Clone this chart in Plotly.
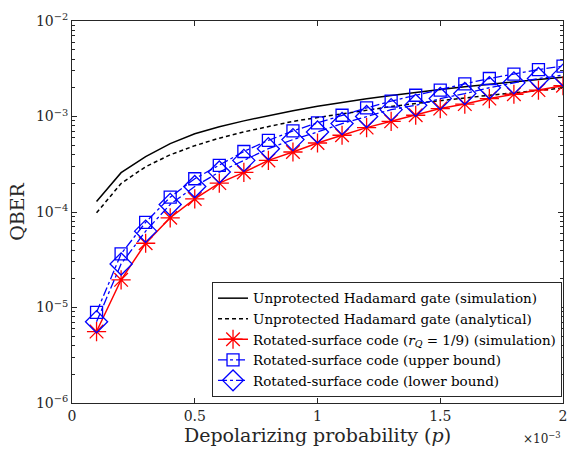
import plotly.graph_objects as go

p = [0.1e-3, 0.2e-3, 0.3e-3, 0.4e-3, 0.5e-3, 0.6e-3, 0.7e-3, 0.8e-3, 0.9e-3, 1.0e-3,
     1.1e-3, 1.2e-3, 1.3e-3, 1.4e-3, 1.5e-3, 1.6e-3, 1.7e-3, 1.8e-3, 1.9e-3, 2.0e-3]

unprot_sim = [1.29e-4, 2.58e-4, 3.8e-4, 5.2e-4, 6.6e-4, 7.8e-4, 9.0e-4, 1.02e-3, 1.15e-3, 1.28e-3,
              1.41e-3, 1.53e-3, 1.66e-3, 1.8e-3, 1.92e-3, 2.05e-3, 2.18e-3, 2.31e-3, 2.44e-3, 2.57e-3]
unprot_ana = [0.98e-4, 1.99e-4, 2.98e-4, 3.97e-4, 4.95e-4, 5.93e-4, 6.9e-4, 7.9e-4, 8.9e-4, 9.75e-4,
              1.07e-3, 1.17e-3, 1.27e-3, 1.37e-3, 1.47e-3, 1.57e-3, 1.67e-3, 1.77e-3, 1.88e-3, 1.99e-3]
rsc_sim = [5.6e-6, 1.95e-5, 4.71e-5, 8.7e-5, 1.37e-4, 2.01e-4, 2.6e-4, 3.47e-4, 4.25e-4, 5.28e-4,
           6.36e-4, 7.65e-4, 8.9e-4, 1.03e-3, 1.21e-3, 1.35e-3, 1.54e-3, 1.71e-3, 1.89e-3, 2.1e-3]
rsc_upper = [8.9e-6, 3.64e-5, 7.8e-5, 1.43e-4, 2.23e-4, 3.08e-4, 4.3e-4, 5.63e-4, 7.06e-4, 8.57e-4,
             1.03e-3, 1.23e-3, 1.45e-3, 1.67e-3, 1.89e-3, 2.2e-3, 2.5e-3, 2.78e-3, 3.1e-3, 3.37e-3]
rsc_lower = [7.1e-6, 2.86e-5, 6.3e-5, 1.2e-4, 1.85e-4, 2.62e-4, 3.47e-4, 4.6e-4, 5.73e-4, 6.88e-4,
             8.43e-4, 1.0e-3, 1.18e-3, 1.31e-3, 1.54e-3, 1.74e-3, 2.0e-3, 2.25e-3, 2.5e-3, 2.71e-3]

names = ["Unprotected Hadamard gate (simulation)",
         "Unprotected Hadamard gate (analytical)",
         "Rotated-surface code (<i>r<sub>Q</sub></i> = 1/9) (simulation)",
         "Rotated-surface code (upper bound)",
         "Rotated-surface code (lower bound)"]

x_tickvals = [0, 0.5e-3, 1.0e-3, 1.5e-3, 2.0e-3]
x_ticktext = ["0", "0.5", "1", "1.5", "2"]
y_tickvals = [1e-6, 1e-5, 1e-4, 1e-3, 1e-2]
y_ticktext = ["10<sup>−6</sup>", "10<sup>−5</sup>", "10<sup>−4</sup>", "10<sup>−3</sup>", "10<sup>−2</sup>"]
y_minor = [m * 10 ** e for e in range(-6, -2) for m in range(2, 10)]

FONT = "DejaVu Serif"
AX = "#262626"

fig = go.Figure()
fig.add_trace(go.Scatter(x=p, y=unprot_sim, mode="lines", name=names[0],
                         line=dict(color="black", width=1.5)))
fig.add_trace(go.Scatter(x=p, y=unprot_ana, mode="lines", name=names[1],
                         line=dict(color="black", width=1.5, dash="4px,3px")))
fig.add_trace(go.Scatter(x=p, y=rsc_sim, mode="lines+markers", name=names[2],
                         line=dict(color="#ff0000", width=1.5),
                         marker=dict(symbol="asterisk-open", size=16,
                                     line=dict(color="#ff0000", width=1.3))))
fig.add_trace(go.Scatter(x=p, y=rsc_upper, mode="lines+markers", name=names[3],
                         line=dict(color="#0000ff", width=1.3, dash="dashdot"),
                         marker=dict(symbol="square-open", size=12, color="#0000ff",
                                     line=dict(color="#0000ff", width=1.3))))
fig.add_trace(go.Scatter(x=p, y=rsc_lower, mode="lines+markers", name=names[4],
                         line=dict(color="#0000ff", width=1.3, dash="dashdot"),
                         marker=dict(symbol="diamond-open", size=17, color="#0000ff",
                                     line=dict(color="#0000ff", width=1.3))))

fig.update_layout(
    width=573, height=449,
    margin=dict(l=72, r=10, t=21, b=46, autoexpand=False),
    paper_bgcolor="white", plot_bgcolor="white",
    font=dict(family=FONT, color=AX, size=14),
    showlegend=True,
    legend=dict(x=0.998, y=0.016, xanchor="right", yanchor="bottom",
                bgcolor="white", bordercolor=AX, borderwidth=1,
                font=dict(family=FONT, size=13.5, color="black"),
                itemwidth=30, tracegroupgap=0),
    xaxis=dict(range=[0, 2.0e-3], tickvals=x_tickvals, ticktext=x_ticktext,
               ticks="inside", ticklen=5, tickcolor=AX, showline=True, linecolor=AX,
               linewidth=1, mirror="allticks", showgrid=False, zeroline=False,
               automargin=False, tickfont=dict(size=14),
               title=dict(text="Depolarizing probability (<i>p</i>)",
                          font=dict(size=19, color=AX), standoff=2)),
    yaxis=dict(type="log", range=[-6, -2], tickvals=y_tickvals, ticktext=y_ticktext,
               ticks="inside", ticklen=5, tickcolor=AX, showline=True, linecolor=AX,
               linewidth=1, mirror="allticks", showgrid=False, zeroline=False,
               automargin=False, tickfont=dict(size=14),
               minor=dict(tickvals=y_minor, ticks="inside", ticklen=3, tickcolor=AX,
                          showgrid=False),
               title=dict(text="QBER", font=dict(size=19, color=AX), standoff=6)),
    annotations=[dict(text="×10<sup>−3</sup>", xref="paper", yref="paper",
                      x=1.0, y=-0.065, xanchor="right", yanchor="top",
                      showarrow=False, font=dict(family=FONT, size=12, color=AX))],
)

fig.write_html("out.html", config={"displayModeBar": False},
               post_script="document.body.style.margin='0px';")
